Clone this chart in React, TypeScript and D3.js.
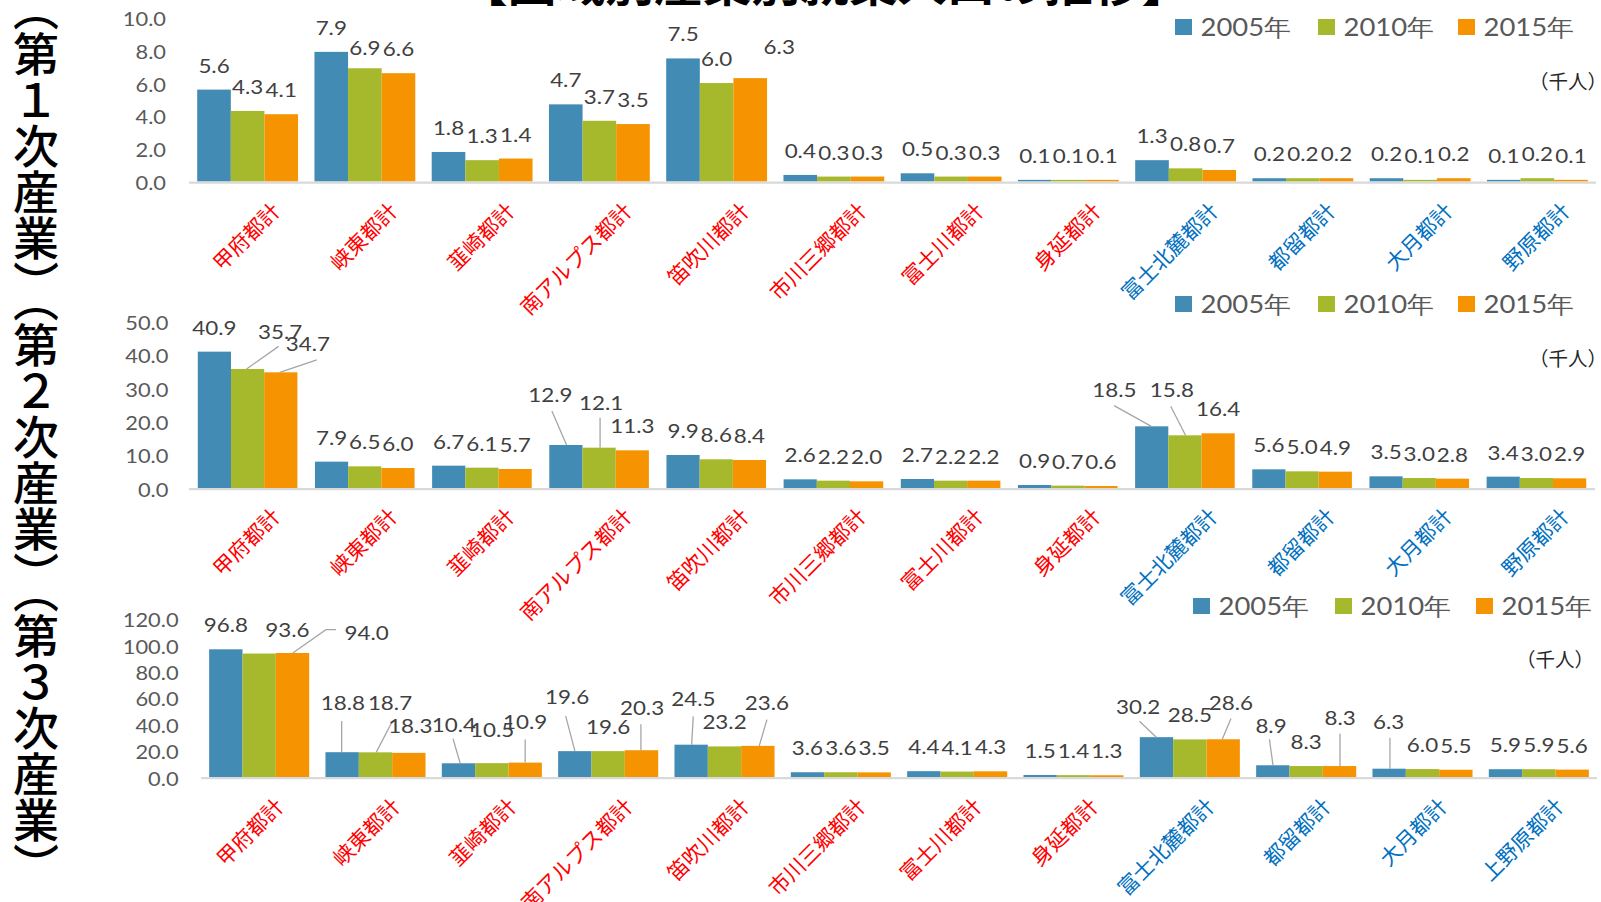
import React from 'react';
import * as d3 from 'd3';

// ---------- data ----------
const chartTitle = '【圏域別産業別就業人口の推移】';
const years = ['2005年', '2010年', '2015年'];
const areas = ['甲府都計', '峡東都計', '韮崎都計', '南アルプス都計', '笛吹川都計', '市川三郷都計', '富士川都計', '身延都計', '富士北麓都計', '都留都計', '大月都計', '野原都計'];
const areasTertiary = ['甲府都計', '峡東都計', '韮崎都計', '南アルプス都計', '笛吹川都計', '市川三郷都計', '富士川都計', '身延都計', '富士北麓都計', '都留都計', '大月都計', '上野原都計'];
const areaRegion = ['国中', '国中', '国中', '国中', '国中', '国中', '国中', '国中', '郡内', '郡内', '郡内', '郡内'];
const sideTitles = ['（第１次産業）', '（第２次産業）', '（第３次産業）'];
const unitLabel = '（千人）';

const primary2005 = [5.6, 7.9, 1.8, 4.7, 7.5, 0.4, 0.5, 0.1, 1.3, 0.2, 0.2, 0.1];
const primary2010 = [4.3, 6.9, 1.3, 3.7, 6.0, 0.3, 0.3, 0.1, 0.8, 0.2, 0.1, 0.2];
const primary2015 = [4.1, 6.6, 1.4, 3.5, 6.3, 0.3, 0.3, 0.1, 0.7, 0.2, 0.2, 0.1];

const secondary2005 = [40.9, 7.9, 6.7, 12.9, 9.9, 2.6, 2.7, 0.9, 18.5, 5.6, 3.5, 3.4];
const secondary2010 = [35.7, 6.5, 6.1, 12.1, 8.6, 2.2, 2.2, 0.7, 15.8, 5.0, 3.0, 3.0];
const secondary2015 = [34.7, 6.0, 5.7, 11.3, 8.4, 2.0, 2.2, 0.6, 16.4, 4.9, 2.8, 2.9];

const tertiary2005 = [96.8, 18.8, 10.4, 19.6, 24.5, 3.6, 4.4, 1.5, 30.2, 8.9, 6.3, 5.9];
const tertiary2010 = [93.6, 18.7, 10.5, 19.6, 23.2, 3.6, 4.1, 1.4, 28.5, 8.3, 6.0, 5.9];
const tertiary2015 = [94.0, 18.3, 10.9, 20.3, 23.6, 3.5, 4.3, 1.3, 28.6, 8.3, 5.5, 5.6];

const primaryTicks = [0, 2, 4, 6, 8, 10];
const secondaryTicks = [0, 10, 20, 30, 40, 50];
const tertiaryTicks = [0, 20, 40, 60, 80, 100, 120];

// ---------- styles / layout ----------
const seriesColors = ['#428BB5', '#A6B92C', '#F59300'];
const regionColors: Record<string, string> = { '国中': '#FF0000', '郡内': '#0070C0' };
const NUM_FONT = "Lato, 'Noto Sans', sans-serif";
const CJK_FONT = "'Noto Sans CJK JP', 'Noto Sans CJK SC', sans-serif";
const SX = 1.12;

type Override = { dx: number; dy: number; leader?: number[][] };

const primaryOverrides: Record<string, Override> = {
  '1-1': { dx: 0, dy: -20.7 },
  '4-2': { dx: 29, dy: -32 },
};
const secondaryOverrides: Record<string, Override> = {
  '0-1': { dx: 32.5, dy: -37.6, leader: [[31, -22.6], [-1, 0]] },
  '0-2': { dx: 27, dy: -28.4, leader: [[36, -12.4], [-1, 0]] },
  '3-0': { dx: -15.6, dy: -50.7, leader: [[-14, -34], [0.7, 0]] },
  '3-1': { dx: 2, dy: -45, leader: [[1, -30], [1, 0]] },
  '8-0': { dx: -37.4, dy: -36.7, leader: [[-37.6, -20.7], [-0.4, 0]] },
  '8-1': { dx: -13.1, dy: -45.7, leader: [[-14.2, -29], [0.6, 0]] },
};
const tertiaryOverrides: Record<string, Override> = {
  '0-1': { dx: 28.3, dy: -23.7 },
  '0-2': { dx: 74.2, dy: -21, leader: [[43.6, -23.4], [33.4, -23.4], [0.3, 0]] },
  '1-0': { dx: 0.7, dy: -49.7, leader: [[-0.5, -31.3], [-0.5, 0]] },
  '1-1': { dx: 14.5, dy: -50, leader: [[17.1, -31.6], [0.7, 0]] },
  '1-2': { dx: 1.4, dy: -27 },
  '2-0': { dx: -4.5, dy: -39, leader: [[-5.5, -24.7], [1.7, 0]] },
  '2-1': { dx: 0.3, dy: -34 },
  '2-2': { dx: 0, dy: -41.3, leader: [[0, -23], [0, 0]] },
  '3-0': { dx: -7.8, dy: -55, leader: [[-9.1, -35], [0.1, 0]] },
  '3-2': { dx: 0.5, dy: -42.7, leader: [[-0.6, -26], [-0.6, 0]] },
  '4-0': { dx: 2.2, dy: -46.7, leader: [[2.1, -28.3], [0.5, 0]] },
  '4-2': { dx: 9.1, dy: -43.6, leader: [[9.1, -26.3], [1.4, 0]] },
  '8-0': { dx: -18.3, dy: -31, leader: [[-17, -16], [-0.2, 0]] },
  '8-2': { dx: 7.7, dy: -36.7, leader: [[7.8, -20.7], [-0.9, 0]] },
  '9-0': { dx: -1.8, dy: -39.3, leader: [[-3.4, -26], [0.2, 0]] },
  '9-2': { dx: 0.7, dy: -49, leader: [[0.5, -32.3], [0.5, 0]] },
  '10-0': { dx: -0.5, dy: -47.6, leader: [[0.8, -31], [0.8, 0]] },
};

const layouts = [
  { xRange: [189, 1596], y0: 181.5, yTop: 17.4, yMax: 10, tickRight: 166, legendY: 27, legendX: [1175, 1318, 1458], unitX: 1529, unitY: 80, catDx: 34, catDy: 31, pad: 0.14, sideY: 5 },
  { xRange: [189, 1595], y0: 488, yTop: 321.3, yMax: 50, tickRight: 168.4, legendY: 304, legendX: [1175, 1318, 1458], unitX: 1529, unitY: 357, catDx: 34, catDy: 30, pad: 0.15, sideY: 296 },
  { xRange: [201, 1597], y0: 777, yTop: 618.7, yMax: 120, tickRight: 178.6, legendY: 606, legendX: [1193, 1335, 1476], unitX: 1516, unitY: 658, catDx: 26, catDy: 31, pad: 0.14, sideY: 587 },
];

function NumText({ x, y, text, size, fill, anchor = 'middle' }: any) {
  return (
    <text transform={`translate(${x},${y}) scale(${SX},1)`} textAnchor={anchor} dominantBaseline="central"
      fontFamily={NUM_FONT} fontSize={size} fill={fill}>{text}</text>
  );
}

function SideTitle({ text, top }: { text: string; top: number }) {
  const chars = Array.from(text);
  const fs = 46;
  const half = fs / 2;
  // opening bracket occupies a half cell at the top, closing bracket a half cell at the bottom
  const ys: number[] = [];
  let cursor = top;
  chars.forEach((c, i) => {
    if (i === 0) { ys.push(cursor); cursor += half; }
    else if (i === chars.length - 1) { ys.push(cursor + half); }
    else { ys.push(cursor + half); cursor += fs; }
  });
  return (
    <g>
      {chars.map((c, i) => (
        <text key={i} x={36} y={ys[i]} textAnchor="middle" dominantBaseline="central"
          fontFamily={CJK_FONT} fontWeight={500} fontSize={fs} fill="#000">
          {c === '（' ? '︵' : c === '）' ? '︶' : c}
        </text>
      ))}
    </g>
  );
}

function Panel({ series, cats, ticks, layout, overrides, sideTitle }: any) {
  const x0 = d3.scaleBand<string>().domain(cats).range(layout.xRange).paddingInner(layout.pad).paddingOuter(layout.pad / 2);
  const x1 = d3.scaleBand<string>().domain(years).range([0, x0.bandwidth()]);
  const y = d3.scaleLinear().domain([0, layout.yMax]).range([layout.y0, layout.yTop]);
  const fmt = d3.format('.1f');

  return (
    <g>
      <SideTitle text={sideTitle} top={layout.sideY} />
      {/* y ticks */}
      {ticks.map((t: number) => (
        <NumText key={'t' + t} x={layout.tickRight} y={y(t) + 1} text={fmt(t)} size={19.5} fill="#595959" anchor="end" />
      ))}
      {/* bars */}
      {cats.map((c: string, ci: number) => (
        <g key={'g' + ci} transform={`translate(${x0(c)},0)`}>
          {years.map((yr, si) => {
            const v = series[si][ci];
            return <rect key={yr} x={x1(yr)} y={y(v)} width={x1.bandwidth()} height={layout.y0 - y(v)} fill={seriesColors[si]} />;
          })}
        </g>
      ))}
      {/* baseline */}
      <line x1={layout.xRange[0]} x2={layout.xRange[1]} y1={layout.y0 + 1.2} y2={layout.y0 + 1.2} stroke="#D9D9D9" strokeWidth={2.3} />
      {/* leader lines + data labels */}
      {cats.map((c: string, ci: number) =>
        years.map((yr, si) => {
          const v = series[si][ci];
          const cx = (x0(c) as number) + (x1(yr) as number) + x1.bandwidth() / 2;
          const top = y(v);
          const o: Override = overrides[`${ci}-${si}`] || { dx: 0, dy: -24.5 };
          return (
            <g key={`l${ci}-${si}`}>
              {o.leader && (
                <polyline points={o.leader.map((p) => `${cx + p[0]},${top + p[1]}`).join(' ')} fill="none" stroke="#A6A6A6" strokeWidth={1.3} />
              )}
              <NumText x={cx + o.dx} y={top + o.dy} text={fmt(v)} size={20} fill="#404040" />
            </g>
          );
        })
      )}
      {/* category labels */}
      {cats.map((c: string, ci: number) => {
        const px = (x0(c) as number) + x0.bandwidth() / 2 + layout.catDx;
        const py = layout.y0 + layout.catDy;
        return (
          <text key={'c' + ci} transform={`translate(${px},${py}) rotate(-45)`} textAnchor="end"
            fontFamily={CJK_FONT} fontSize={21} fill={regionColors[areaRegion[ci]]}>{c}</text>
        );
      })}
      {/* legend */}
      {years.map((yr, si) => (
        <g key={'lg' + si}>
          <rect x={layout.legendX[si]} y={layout.legendY - 8} width={17} height={16} fill={seriesColors[si]} />
          <NumText x={layout.legendX[si] + 25.5} y={layout.legendY} text={yr} size={24.5} fill="#595959" anchor="start" />
        </g>
      ))}
      {/* unit */}
      <text x={layout.unitX} y={layout.unitY} dominantBaseline="central" fontFamily={CJK_FONT} fontSize={19.5} fill="#262626">{unitLabel}</text>
    </g>
  );
}

export default function App() {
  const W = 1601, H = 902;
  const panels = [
    { series: [primary2005, primary2010, primary2015], cats: areas, ticks: primaryTicks, overrides: primaryOverrides, sideTitle: sideTitles[0] },
    { series: [secondary2005, secondary2010, secondary2015], cats: areas, ticks: secondaryTicks, overrides: secondaryOverrides, sideTitle: sideTitles[1] },
    { series: [tertiary2005, tertiary2010, tertiary2015], cats: areasTertiary, ticks: tertiaryTicks, overrides: tertiaryOverrides, sideTitle: sideTitles[2] },
  ];
  return (
    <svg width={W} height={H} style={{ position: 'absolute', left: 0, top: 0 }}>
      <rect width={W} height={H} fill="#fff" />
      {panels.map((p, i) => (
        <Panel key={i} {...p} layout={layouts[i]} />
      ))}
      <text transform="translate(459,1) scale(1.06,1)" fontFamily={CJK_FONT} fontWeight={700} fontSize={46} fill="#000">{chartTitle}</text>
    </svg>
  );
}
